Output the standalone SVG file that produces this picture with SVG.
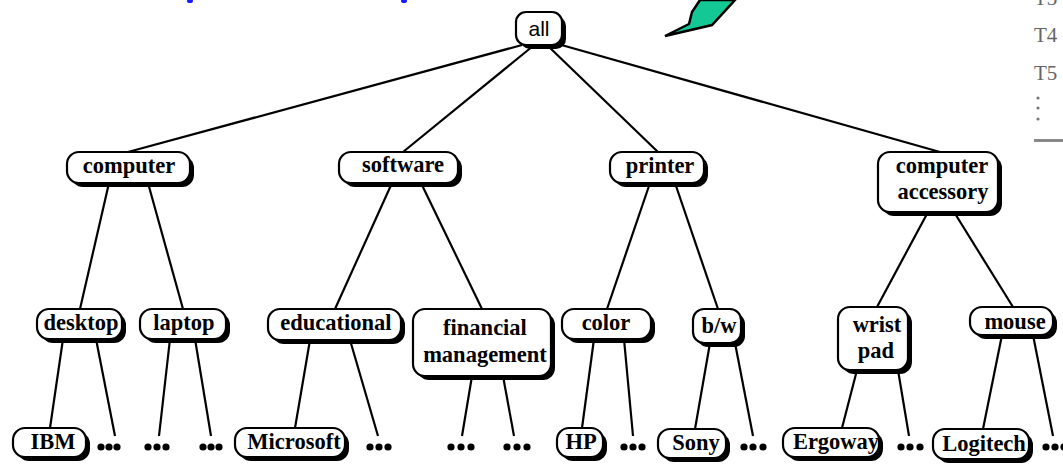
<svg xmlns="http://www.w3.org/2000/svg" width="1063" height="464" viewBox="0 0 1063 464">
<style>
.sh{fill:#000}
.bx{fill:#fff;stroke:#000;stroke-width:2.2}
.t{font-family:"Liberation Serif",serif;font-weight:bold;font-size:22.5px;fill:#000;text-anchor:middle}
.ts{font-family:"Liberation Sans",Arial,sans-serif;font-size:21px;fill:#000;text-anchor:middle}
.c line{stroke:#000;stroke-width:2.2}
.d circle{fill:#000}
.side{font-family:"Liberation Serif",serif;font-size:21px;fill:#666}
</style>
<rect width="1063" height="464" fill="#fff"/>
<ellipse cx="190" cy="1" rx="3" ry="2" fill="#1a1aff"/>
<ellipse cx="404" cy="1" rx="3" ry="2" fill="#1a1aff"/>
<polygon points="665,36 689,24 692,12 700,0 735,0 712,25" fill="#14c896" stroke="#000" stroke-width="2.5" stroke-linejoin="miter"/>
<g id="side">
<text class="side" x="1034" y="5">T3</text>
<text class="side" x="1034" y="42">T4</text>
<text class="side" x="1034" y="80">T5</text>
<circle cx="1038" cy="98" r="1.6" fill="#777"/>
<circle cx="1038" cy="108" r="1.6" fill="#777"/>
<circle cx="1038" cy="119" r="1.6" fill="#777"/>
<rect x="1034" y="139" width="29" height="3" fill="#888"/>
</g>
<g class="c" id="connectors">
<line x1="522" y1="45" x2="128" y2="152"/>
<line x1="533" y1="46" x2="403" y2="152"/>
<line x1="548" y1="46" x2="658" y2="152"/>
<line x1="558" y1="44" x2="940" y2="152"/>
<line x1="109" y1="183" x2="80" y2="309"/>
<line x1="148" y1="183" x2="183" y2="309"/>
<line x1="392" y1="183" x2="335" y2="309"/>
<line x1="421" y1="183" x2="482" y2="309"/>
<line x1="650" y1="183" x2="607" y2="309"/>
<line x1="675" y1="183" x2="718" y2="309"/>
<line x1="928" y1="212" x2="877" y2="307"/>
<line x1="954" y1="212" x2="1013" y2="307"/>
<line x1="63" y1="339" x2="50" y2="428"/>
<line x1="96" y1="339" x2="115" y2="436"/>
<line x1="170" y1="339" x2="159" y2="436"/>
<line x1="195" y1="339" x2="211" y2="436"/>
<line x1="310" y1="340" x2="295" y2="428"/>
<line x1="350" y1="340" x2="378" y2="436"/>
<line x1="472" y1="376" x2="462" y2="436"/>
<line x1="503" y1="376" x2="514" y2="436"/>
<line x1="594" y1="339" x2="582" y2="428"/>
<line x1="624" y1="339" x2="633" y2="436"/>
<line x1="710" y1="343" x2="695" y2="429"/>
<line x1="735" y1="343" x2="753" y2="436"/>
<line x1="857" y1="370" x2="842" y2="428"/>
<line x1="898" y1="370" x2="909" y2="436"/>
<line x1="1002" y1="335" x2="983" y2="429"/>
<line x1="1033" y1="335" x2="1053" y2="436"/>
</g>
<g id="n-all"><rect class="sh" x="520" y="16" width="46" height="33" rx="10"/><rect class="bx" x="516" y="12" width="46" height="33" rx="10"/><text class="ts" x="539" y="36">all</text></g>
<g id="n-computer"><rect class="sh" x="71" y="156" width="123" height="31" rx="12"/><rect class="bx" x="67" y="152" width="123" height="31" rx="12"/><text class="t" x="129" y="173">computer</text></g>
<g id="n-software"><rect class="sh" x="343" y="156" width="119" height="31" rx="12"/><rect class="bx" x="339" y="152" width="119" height="31" rx="12"/><text class="t" x="403" y="172">software</text></g>
<g id="n-printer"><rect class="sh" x="614" y="156" width="94" height="31" rx="12"/><rect class="bx" x="610" y="152" width="94" height="31" rx="12"/><text class="t" x="660" y="173">printer</text></g>
<g id="n-accessory"><rect class="sh" x="882" y="156" width="120" height="60" rx="12"/><rect class="bx" x="878" y="152" width="120" height="60" rx="12"/><text class="t" x="942" y="173">computer</text><text class="t" x="943" y="199">accessory</text></g>
<g id="n-desktop"><rect class="sh" x="41" y="313" width="85" height="30" rx="12"/><rect class="bx" x="37" y="309" width="85" height="30" rx="12"/><text class="t" x="81" y="330">desktop</text></g>
<g id="n-laptop"><rect class="sh" x="144" y="313" width="86" height="30" rx="12"/><rect class="bx" x="140" y="309" width="86" height="30" rx="12"/><text class="t" x="184" y="330">laptop</text></g>
<g id="n-educational"><rect class="sh" x="272" y="313" width="133" height="31" rx="12"/><rect class="bx" x="268" y="309" width="133" height="31" rx="12"/><text class="t" x="336" y="330">educational</text></g>
<g id="n-financial"><rect class="sh" x="417" y="313" width="138" height="67" rx="12"/><rect class="bx" x="413" y="309" width="138" height="67" rx="12"/><text class="t" x="485" y="335">financial</text><text class="t" x="485" y="362">management</text></g>
<g id="n-color"><rect class="sh" x="566" y="313" width="89" height="30" rx="12"/><rect class="bx" x="562" y="309" width="89" height="30" rx="12"/><text class="t" x="606" y="330">color</text></g>
<g id="n-bw"><rect class="sh" x="697" y="313" width="48" height="34" rx="11"/><rect class="bx" x="693" y="309" width="48" height="34" rx="11"/><text class="t" x="719" y="333">b/w</text></g>
<g id="n-wristpad"><rect class="sh" x="842" y="311" width="70" height="63" rx="12"/><rect class="bx" x="838" y="307" width="70" height="63" rx="12"/><text class="t" x="877" y="332">wrist</text><text class="t" x="876" y="358">pad</text></g>
<g id="n-mouse"><rect class="sh" x="974" y="311" width="83" height="28" rx="12"/><rect class="bx" x="970" y="307" width="83" height="28" rx="12"/><text class="t" x="1015" y="329">mouse</text></g>
<g id="n-ibm"><rect class="sh" x="17" y="432" width="73" height="29" rx="12"/><rect class="bx" x="13" y="428" width="73" height="29" rx="12"/><text class="t" x="53" y="449">IBM</text></g>
<g id="n-microsoft"><rect class="sh" x="239" y="432" width="110" height="29" rx="12"/><rect class="bx" x="235" y="428" width="110" height="29" rx="12"/><text class="t" x="294" y="449">Microsoft</text></g>
<g id="n-hp"><rect class="sh" x="561" y="432" width="46" height="29" rx="12"/><rect class="bx" x="557" y="428" width="46" height="29" rx="12"/><text class="t" x="581" y="449">HP</text></g>
<g id="n-sony"><rect class="sh" x="662" y="433" width="68" height="29" rx="12"/><rect class="bx" x="658" y="429" width="68" height="29" rx="12"/><text class="t" x="696" y="450">Sony</text></g>
<g id="n-ergoway"><rect class="sh" x="787" y="432" width="96" height="29" rx="12"/><rect class="bx" x="783" y="428" width="96" height="29" rx="12"/><text class="t" x="836" y="449">Ergoway</text></g>
<g id="n-logitech"><rect class="sh" x="937" y="433" width="96" height="30" rx="12"/><rect class="bx" x="933" y="429" width="96" height="30" rx="12"/><text class="t" x="984" y="451">Logitech</text></g>
<g class="d" id="ellipses">
<circle cx="101" cy="447" r="3.6"/><circle cx="109" cy="447" r="3.6"/><circle cx="117" cy="447" r="3.6"/>
<circle cx="148" cy="447" r="3.6"/><circle cx="157" cy="447" r="3.6"/><circle cx="166" cy="447" r="3.6"/>
<circle cx="203" cy="447" r="3.6"/><circle cx="211" cy="447" r="3.6"/><circle cx="219" cy="447" r="3.6"/>
<circle cx="370" cy="447" r="3.6"/><circle cx="379" cy="447" r="3.6"/><circle cx="388" cy="447" r="3.6"/>
<circle cx="451" cy="447" r="3.6"/><circle cx="461" cy="447" r="3.6"/><circle cx="471" cy="447" r="3.6"/>
<circle cx="507" cy="447" r="3.6"/><circle cx="517" cy="447" r="3.6"/><circle cx="527" cy="447" r="3.6"/>
<circle cx="624" cy="447" r="3.6"/><circle cx="633" cy="447" r="3.6"/><circle cx="642" cy="447" r="3.6"/>
<circle cx="744" cy="447" r="3.6"/><circle cx="753" cy="447" r="3.6"/><circle cx="763" cy="447" r="3.6"/>
<circle cx="901" cy="447" r="3.6"/><circle cx="910" cy="447" r="3.6"/><circle cx="920" cy="447" r="3.6"/>
<circle cx="1046" cy="447" r="3.6"/><circle cx="1055" cy="447" r="3.6"/><circle cx="1064" cy="447" r="3.6"/>
</g>
</svg>
